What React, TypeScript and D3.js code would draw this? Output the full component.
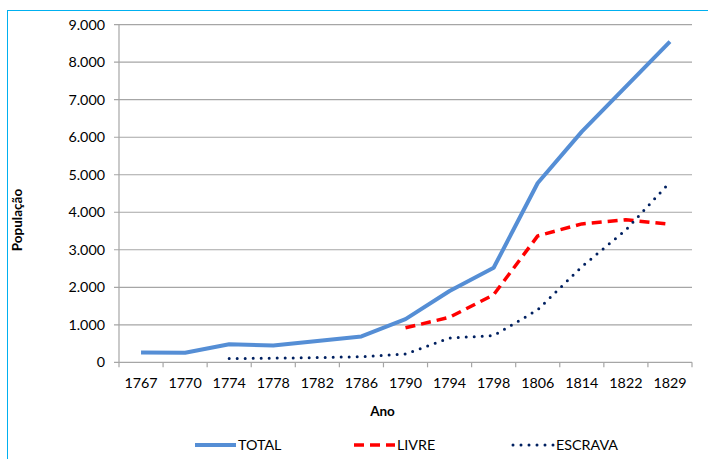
import React from 'react';
import * as d3 from 'd3';

const years = ['1767', '1770', '1774', '1778', '1782', '1786', '1790', '1794', '1798', '1806', '1814', '1822', '1829'];
const total = [260, 255, 480, 450, 570, 690, 1150, 1900, 2520, 4780, 6150, 7350, 8550];
const livre = [null, null, null, null, null, null, 920, 1200, 1800, 3370, 3690, 3800, 3680];
const escrava = [null, null, 100, 110, 125, 150, 220, 650, 710, 1400, 2550, 3530, 4800];
const yTicks = [0, 1000, 2000, 3000, 4000, 5000, 6000, 7000, 8000, 9000];

const W = 708, H = 459;
const plot = { left: 119, right: 692, top: 24.7, bottom: 362.3 };
const font = 'Lato, "Open Sans", sans-serif';

const fmt = d3.formatLocale({ decimal: ',', thousands: '.', grouping: [3], currency: ['R$', ''] }).format(',d');

export default function App() {
  const x = d3.scaleBand().domain(years).range([plot.left, plot.right]);
  const y = d3.scaleLinear().domain([0, 9000]).range([plot.bottom, plot.top]);
  const cx = (i: number) => (x(years[i]) as number) + x.bandwidth() / 2;

  const line = d3.line<number | null>()
    .defined(d => d !== null)
    .x((d, i) => cx(i))
    .y(d => y(d as number));

  const series = [
    { name: 'TOTAL', data: total, color: '#558ED5', width: 4, dash: undefined, cap: 'butt' },
    { name: 'LIVRE', data: livre, color: '#FF0000', width: 3.5, dash: '10 6', cap: 'butt' },
    { name: 'ESCRAVA', data: escrava, color: '#002060', width: 3, dash: '0 8', cap: 'round' },
  ];
  const legendX = [195, 354, 513];

  return (
    <svg width={W} height={H} style={{ position: 'absolute', left: 0, top: 0, background: '#fff' }} fontFamily={font}>
      <rect x={7.5} y={10.5} width={W + 10} height={H + 10} fill="#fff" stroke="#00B0F0" strokeWidth={1} />
      {yTicks.map(t => (
        <g key={t}>
          <line x1={plot.left - 5} x2={plot.right} y1={y(t)} y2={y(t)} stroke="#A6A6A6" strokeWidth={1.2} />
          <text x={105} y={y(t)} dy="0.35em" textAnchor="end" fontSize={14.3} fill="#000">{fmt(t)}</text>
        </g>
      ))}
      <line x1={plot.left} x2={plot.left} y1={plot.top} y2={plot.bottom} stroke="#A6A6A6" strokeWidth={1.2} />
      {years.map((yr, i) => (
        <g key={yr}>
          <line x1={x(yr) as number} x2={x(yr) as number} y1={plot.bottom} y2={plot.bottom + 5} stroke="#A6A6A6" strokeWidth={1.2} />
          <text x={cx(i)} y={plot.bottom + 21} dy="0.35em" textAnchor="middle" fontSize={14.3} fill="#000">{yr}</text>
        </g>
      ))}
      <line x1={plot.right} x2={plot.right} y1={plot.bottom} y2={plot.bottom + 5} stroke="#A6A6A6" strokeWidth={1.2} />
      <text x={(plot.left + plot.right) / 2 - 23} y={411} dy="0.35em" textAnchor="middle" fontSize={13.5} fontWeight="bold">Ano</text>
      <text transform="translate(17,220) rotate(-90)" dy="0.35em" textAnchor="middle" fontSize={13.5} fontWeight="bold">População</text>
      {series.map(s => (
        <path key={s.name} d={line(s.data) as string} fill="none" stroke={s.color} strokeWidth={s.width}
          strokeDasharray={s.dash} strokeLinecap={s.cap as any} strokeLinejoin="round" />
      ))}
      {series.map((s, i) => (
        <g key={s.name}>
          <line x1={legendX[i]} x2={legendX[i] + 41} y1={445} y2={445} stroke={s.color} strokeWidth={s.width}
            strokeDasharray={s.dash} strokeLinecap={s.cap as any} />
          <text x={legendX[i] + 43} y={445} dy="0.35em" fontSize={14.3} fill="#000">{s.name}</text>
        </g>
      ))}
    </svg>
  );
}
